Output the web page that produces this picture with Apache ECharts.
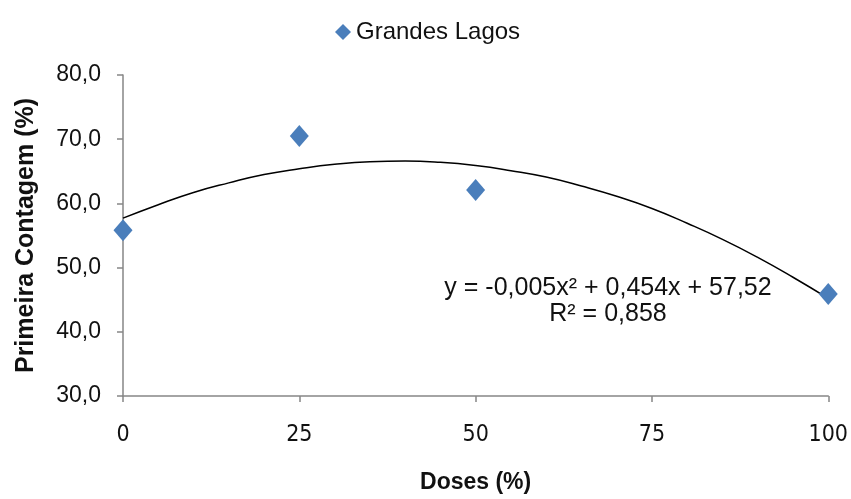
<!DOCTYPE html>
<html>
<head>
<meta charset="utf-8">
<script src="https://cdn.jsdelivr.net/npm/echarts@6/dist/echarts.min.js"></script>
<style>
html,body{margin:0;padding:0;background:#fff;}
#chart{width:851px;height:499px;}
</style>
</head>
<body>
<div id="chart"></div>
<script>
// Observed data (Doses %, Primeira Contagem %)
const doses = [0, 25, 50, 100];
const primeiraContagem = [55.8, 70.5, 62.1, 45.9];

// Trend line points
const trendX = [0, 5, 10, 15, 20, 25, 30, 35, 40, 45, 50, 55, 60, 65, 70, 75, 80, 85, 90, 95, 100];
const trendY = [57.7, 59.8, 61.7, 63.2, 64.5, 65.4, 66.1, 66.5, 66.6, 66.4, 65.9, 65.1, 64.1, 62.7, 61.1, 59.2, 56.9, 54.4, 51.6, 48.5, 45.2];

const xTicks = [0, 25, 50, 75, 100];
const yTicks = [30, 40, 50, 60, 70, 80];

const seriesName = 'Grandes Lagos';
const equationText = 'y = -0,005x² + 0,454x + 57,52';
const r2Text = 'R² = 0,858';

const FONT = "'Liberation Sans', Arial, sans-serif";
const FONT_NARROW = "'Liberation Sans Narrow', 'Arial Narrow', 'DejaVu Sans Condensed', 'Liberation Sans', sans-serif";

const chart = echarts.init(document.getElementById('chart'), null, {renderer: 'canvas'});
chart.setOption({
  animation: false,
  backgroundColor: '#ffffff',
  textStyle: {fontFamily: FONT},
  legend: {
    data: [seriesName],
    left: 330,
    top: 15,
    icon: 'diamond',
    itemWidth: 16,
    itemHeight: 16,
    itemGap: 10,
    textStyle: {fontSize: 24, color: '#111', fontFamily: FONT}
  },
  grid: {left: 123, right: 22, top: 75, bottom: 98, containLabel: false},
  xAxis: {
    type: 'value',
    min: xTicks[0],
    max: xTicks[xTicks.length - 1],
    interval: 25,
    name: 'Doses (%)',
    nameLocation: 'middle',
    nameGap: 75,
    nameTextStyle: {fontSize: 23, fontWeight: 'bold', color: '#111', fontFamily: FONT},
    axisLine: {show: true, lineStyle: {color: '#868686', width: 1.5}},
    axisTick: {show: true, length: 6, lineStyle: {color: '#868686', width: 1.5}},
    splitLine: {show: false},
    axisLabel: {fontSize: 23, color: '#111', margin: 28, fontFamily: FONT_NARROW}
  },
  yAxis: {
    type: 'value',
    min: yTicks[0],
    max: yTicks[yTicks.length - 1],
    interval: 10,
    name: 'Primeira Contagem (%)',
    nameLocation: 'middle',
    nameRotate: 90,
    nameGap: 84,
    nameTextStyle: {fontSize: 25, fontWeight: 'bold', color: '#111', fontFamily: FONT},
    axisLine: {show: true, lineStyle: {color: '#868686', width: 1.5}},
    axisTick: {show: true, length: 6, lineStyle: {color: '#868686', width: 1.5}},
    splitLine: {show: false},
    axisLabel: {
      fontSize: 23, color: '#111', margin: 22, fontFamily: FONT,
      formatter: v => v.toFixed(1).replace('.', ',')
    }
  },
  graphic: [
    {type: 'text', x: 608, y: 288, z: 10,
     style: {text: equationText, textAlign: 'center', textVerticalAlign: 'middle', fontSize: 25, fill: '#111', fontFamily: FONT}},
    {type: 'text', x: 608, y: 314, z: 10,
     style: {text: r2Text, textAlign: 'center', textVerticalAlign: 'middle', fontSize: 25, fill: '#111', fontFamily: FONT}}
  ],
  series: [
    {
      name: 'Tendência',
      type: 'line',
      data: trendX.map((x, i) => [x, trendY[i]]),
      smooth: true,
      showSymbol: false,
      symbol: 'none',
      lineStyle: {color: '#000', width: 1.5},
      z: 2,
      silent: true
    },
    {
      name: seriesName,
      type: 'scatter',
      data: doses.map((x, i) => [x, primeiraContagem[i]]),
      symbol: 'diamond',
      symbolSize: [19, 22],
      itemStyle: {color: '#4A7EBB', opacity: 1},
      z: 3
    }
  ]
});
</script>
</body>
</html>
